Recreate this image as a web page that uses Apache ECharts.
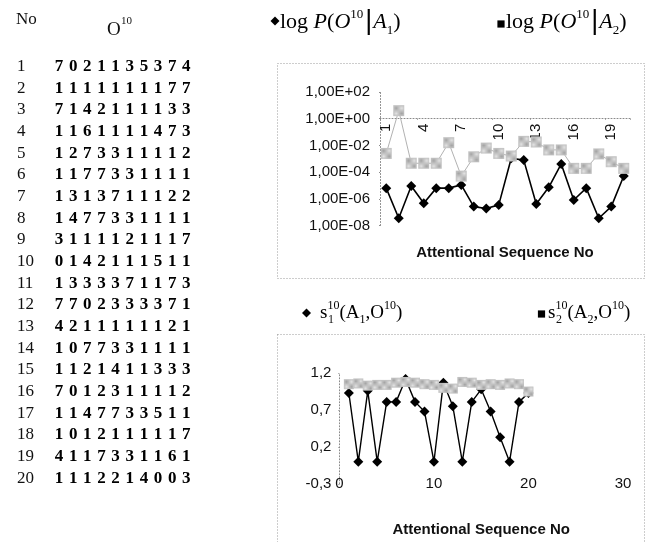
<!DOCTYPE html>
<html>
<head>
<meta charset="utf-8">
<script src="https://cdn.jsdelivr.net/npm/echarts@6/dist/echarts.min.js"></script>
<style>
  html, body { margin: 0; padding: 0; background: #fff; }
  #c { width: 648px; height: 542px; }
</style>
</head>
<body>
<div id="c"></div>
<script>
// ---- data ----------------------------------------------------------------
// attentional sequence numbers
const seqNo = [1, 2, 3, 4, 5, 6, 7, 8, 9, 10, 11, 12, 13, 14, 15, 16, 17, 18, 19, 20];

// observation sequences O^10, one per attentional sequence
const sequences = [
  '7021135374', '1111111177', '7142111133', '1161111473', '1273311112',
  '1177331111', '1313711122', '1477331111', '3111121117', '0142111511',
  '1333371173', '7702333371', '4211111121', '1077331111', '1121411333',
  '7012311112', '1147733511', '1012111117', '4117331161', '1112214003'
];

// P(O^10 | A1) and P(O^10 | A2), plotted on a log scale
const pA1 = [6.3e-6, 3.5e-8, 9.1e-6, 4.6e-7, 6.3e-6, 6.3e-6, 1.1e-5, 2.6e-7, 1.9e-7, 3.5e-7,
             1.1e-3, 7.9e-4, 4.1e-7, 7.2e-6, 4.1e-4, 8.1e-7, 6.3e-6, 3.5e-8, 2.6e-7, 5.1e-5];
const pA2 = [2.5e-3, 4.0, 4.6e-4, 4.6e-4, 4.6e-4, 1.6e-2, 5.0e-5, 1.4e-3, 6.3e-3, 2.5e-3,
             1.6e-3, 2.0e-2, 1.8e-2, 4.6e-3, 4.6e-3, 1.9e-4, 1.9e-4, 2.3e-3, 6.0e-4, 1.9e-4];

// similarity scores s1^10(A1, O^10) and s2^10(A2, O^10)
const s1 = [0.93, 0, 0.96, 0, 0.81, 0.81, 1.12, 0.81, 0.68, 0,
            1.07, 0.75, 0, 0.81, 0.98, 0.68, 0.33, 0, 0.81, 0.93];
const s2 = [1.05, 1.06, 1.03, 1.04, 1.04, 1.07, 1.08, 1.07, 1.05, 1.04,
            1.00, 0.99, 1.08, 1.07, 1.04, 1.05, 1.04, 1.06, 1.05, 0.95];

// axis ranges
const logMin = 1e-8, logMax = 1e2;
const sMin = -0.3, sMax = 1.2, sStep = 0.5;
const seqMin = 0, seqMax = 30, seqStep = 10;

// ---- styling helpers ------------------------------------------------------
const SANS = '"Liberation Sans", Arial, sans-serif';
const SERIF = '"Liberation Serif", "Times New Roman", serif';
const INK = '#111';
const dotted = { color: '#8a8a8a', width: 1, type: [1, 2] };

// mottled grey fill used for the A2 markers
function ditherFill() {
  const c = document.createElement('canvas');
  c.width = 2; c.height = 2;
  const g = c.getContext('2d');
  g.fillStyle = '#e4e4e4'; g.fillRect(0, 0, 2, 2);
  g.fillStyle = '#a2a2a2'; g.fillRect(0, 0, 1, 1); g.fillRect(1, 1, 1, 1);
  return { image: c, repeat: 'repeat' };
}
const greyFill = ditherFill();

function sciLabel(v) {
  const e = Math.round(Math.log10(v));
  return '1,00E' + (e < 0 ? '-' : '+') + String(Math.abs(e)).padStart(2, '0');
}
function commaLabel(v) {
  return (Math.round(v * 10) / 10).toFixed(1).replace('.', ',');
}

// ---- table of sequences --------------------------------------------------
const tableEls = [];
tableEls.push({ type: 'text', x: 16, y: 20,
  style: { text: 'No', font: '17px ' + SERIF, fill: INK, verticalAlign: 'middle' } });
tableEls.push({ type: 'text', x: 107, y: 30,
  style: { text: 'O', font: '19px ' + SERIF, fill: INK, verticalAlign: 'middle' } });
tableEls.push({ type: 'text', x: 121, y: 21,
  style: { text: '10', font: '11px ' + SERIF, fill: INK, verticalAlign: 'middle' } });
const rowTop = 66.7, rowStep = 21.66, digitLeft = 59, digitStep = 14.15;
sequences.forEach((seq, i) => {
  const y = rowTop + i * rowStep;
  tableEls.push({ type: 'text', x: 17, y: y,
    style: { text: String(seqNo[i]), font: '17px ' + SERIF, fill: INK, verticalAlign: 'middle' } });
  seq.split('').forEach((d, j) => {
    tableEls.push({ type: 'text', x: digitLeft + j * digitStep, y: y,
      style: { text: d, font: 'bold 17px ' + SERIF, fill: '#000',
               textAlign: 'center', verticalAlign: 'middle' } });
  });
});

// ---- legends --------------------------------------------------------------
const topRich = {
  n:   { fontFamily: SERIF, fontSize: 22, lineHeight: 30, color: INK },
  i:   { fontFamily: SERIF, fontSize: 22, lineHeight: 30, fontStyle: 'italic', color: INK },
  sup: { fontFamily: SERIF, fontSize: 13, lineHeight: 13, verticalAlign: 'top', color: INK, padding: [1, 1, 0, 0] },
  sub: { fontFamily: SERIF, fontSize: 13, lineHeight: 13, verticalAlign: 'bottom', color: INK },
  bar: { fontFamily: SANS, fontSize: 27, fontWeight: 'lighter', lineHeight: 30, color: '#a8a8a8', padding: [0, 1, 0, 1] }
};
function topLegendText(k) {
  return '{n|log }{i|P}{n|(}{i|O}{sup|10}{bar||}{i|A}{sub|' + k + '}{n|)}';
}
const botRich = {
  n:   { fontFamily: SERIF, fontSize: 19, lineHeight: 26, color: INK },
  sup: { fontFamily: SERIF, fontSize: 12, lineHeight: 12, verticalAlign: 'top', color: INK },
  sub: { fontFamily: SERIF, fontSize: 12, lineHeight: 12, verticalAlign: 'bottom', color: INK }
};
function botLegendText(k) {
  return '{n|s}{sup|10}{n|(A}{sub|' + k + '}{n|,O}{sup|10}{n|)}';
}
function diamond(cx, cy, r) {
  return { type: 'polygon', shape: { points: [[cx, cy - r], [cx + r, cy], [cx, cy + r], [cx - r, cy]] },
           style: { fill: '#000' } };
}
function square(cx, cy, h) {
  return { type: 'rect', shape: { x: cx - h, y: cy - h, width: 2 * h, height: 2 * h }, style: { fill: '#000' } };
}
const legendEls = [
  diamond(275, 21, 4.5),
  { type: 'text', x: 280, y: 22, style: { text: topLegendText('1'), rich: topRich, verticalAlign: 'middle' } },
  square(501, 24, 3.6),
  { type: 'text', x: 506, y: 22, style: { text: topLegendText('2'), rich: topRich, verticalAlign: 'middle' } },

  diamond(306.5, 313, 4.5),
  { type: 'text', x: 320, y: 313, style: { text: botLegendText('1'), rich: botRich, verticalAlign: 'middle' } },
  { type: 'text', x: 328, y: 320, style: { text: '1', font: '12px ' + SERIF, fill: INK, verticalAlign: 'middle' } },
  square(541.5, 314, 3.6),
  { type: 'text', x: 548, y: 313, style: { text: botLegendText('2'), rich: botRich, verticalAlign: 'middle' } },
  { type: 'text', x: 556, y: 320, style: { text: '2', font: '12px ' + SERIF, fill: INK, verticalAlign: 'middle' } }
];

// dotted chart-area frames
const frameEls = [
  { type: 'rect', shape: { x: 277.5, y: 63.5, width: 367, height: 215 },
    style: { fill: 'none', stroke: '#9a9a9a', lineWidth: 1, lineDash: [1, 2] } },
  { type: 'rect', shape: { x: 277.5, y: 334.5, width: 367, height: 220 },
    style: { fill: 'none', stroke: '#9a9a9a', lineWidth: 1, lineDash: [1, 2] } }
];

// ---- chart ----------------------------------------------------------------
const chart = echarts.init(document.getElementById('c'), null, { renderer: 'canvas', width: 648, height: 542 });

const axisFont = { fontFamily: SANS, fontSize: 15, color: INK };
const nameFont = { fontFamily: SANS, fontSize: 15, fontWeight: 'bold', color: INK };

chart.setOption({
  animation: false,
  backgroundColor: '#fff',
  grid: [
    // log-probability plot
    { left: 380, top: 92, width: 250, height: 133.5, outerBoundsMode: 'none', containLabel: false },
    // carries the category axis drawn across 1E+00
    { left: 380, top: 92, width: 250, height: 26.7, outerBoundsMode: 'none', containLabel: false },
    // similarity plot
    { left: 339.4, top: 373.1, width: 283.6, height: 110.7, outerBoundsMode: 'none', containLabel: false }
  ],
  xAxis: [
    { gridIndex: 0, type: 'category', data: seqNo, boundaryGap: true,
      axisLine: { show: false }, axisTick: { show: false }, axisLabel: { show: false },
      name: 'Attentional Sequence No', nameLocation: 'middle', nameGap: 20, nameTextStyle: nameFont },
    { gridIndex: 1, type: 'category', data: seqNo, boundaryGap: true, position: 'bottom',
      axisLine: { show: true, onZero: false, lineStyle: dotted },
      axisTick: { show: true, length: 2, lineStyle: dotted },
      axisLabel: Object.assign({ interval: 2, rotate: 90, margin: 5 }, axisFont) },
    { gridIndex: 2, type: 'value', min: seqMin, max: seqMax, interval: seqStep, position: 'bottom',
      axisLine: { show: false, onZero: false }, axisTick: { show: false }, splitLine: { show: false },
      axisLabel: Object.assign({ margin: -7 }, axisFont),
      name: 'Attentional Sequence No', nameLocation: 'middle', nameGap: 39, nameTextStyle: nameFont }
  ],
  yAxis: [
    { gridIndex: 0, type: 'log', logBase: 10, min: logMin, max: logMax, interval: 2,
      axisLine: { show: true, lineStyle: dotted },
      axisTick: { show: true, length: 3, lineStyle: dotted },
      splitLine: { show: false },
      axisLabel: Object.assign({ margin: 10, formatter: sciLabel }, axisFont) },
    { gridIndex: 1, type: 'value', min: 0, max: 1, show: false },
    { gridIndex: 2, type: 'value', min: sMin, max: sMax, interval: sStep,
      axisLine: { show: true, onZero: false, lineStyle: dotted },
      axisTick: { show: true, length: 3, lineStyle: dotted },
      splitLine: { show: false },
      axisLabel: Object.assign({ margin: 8, formatter: commaLabel }, axisFont) }
  ],
  series: [
    { name: 'A1', type: 'line', xAxisIndex: 0, yAxisIndex: 0, data: pA1, z: 3,
      symbol: 'diamond', symbolSize: 10, showAllSymbol: true,
      itemStyle: { color: '#000' }, lineStyle: { color: '#000', width: 1.6 } },
    { name: 'A2', type: 'line', xAxisIndex: 0, yAxisIndex: 0, data: pA2, z: 4,
      symbol: 'rect', symbolSize: 11, showAllSymbol: true,
      itemStyle: { color: greyFill }, lineStyle: { color: '#b2b2b2', width: 1 } },
    { name: 's1', type: 'line', xAxisIndex: 2, yAxisIndex: 2, z: 3,
      data: seqNo.map((x, i) => [x, s1[i]]),
      symbol: 'diamond', symbolSize: 10,
      itemStyle: { color: '#000' }, lineStyle: { color: '#000', width: 1.4 } },
    { name: 's2', type: 'line', xAxisIndex: 2, yAxisIndex: 2, z: 4,
      data: seqNo.map((x, i) => [x, s2[i]]),
      symbol: 'rect', symbolSize: 10,
      itemStyle: { color: greyFill }, lineStyle: { color: '#b2b2b2', width: 1 } }
  ],
  graphic: { elements: frameEls.concat(tableEls, legendEls) }
});
</script>
</body>
</html>
